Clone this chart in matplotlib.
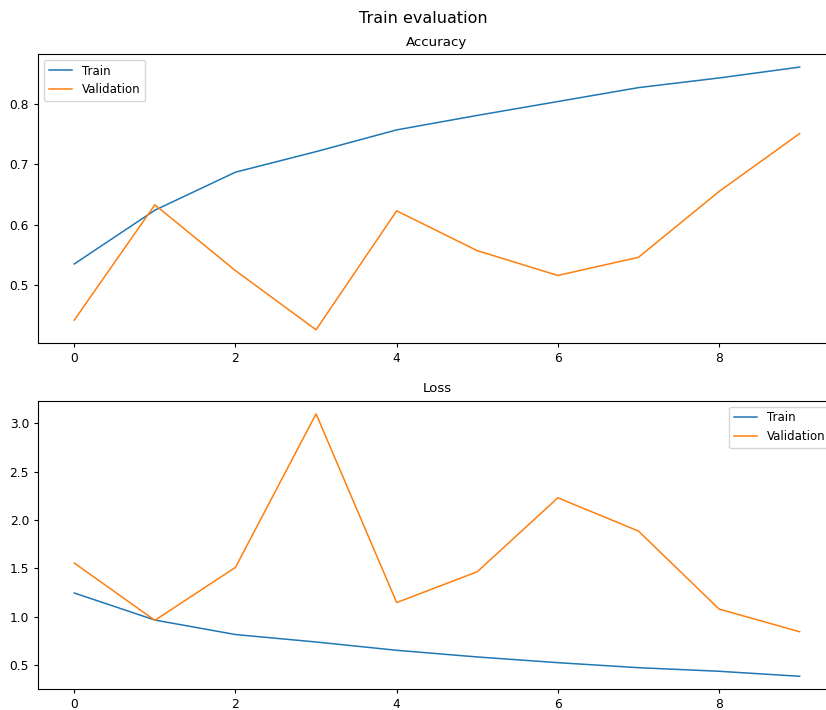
import matplotlib
matplotlib.use("Agg")
import matplotlib.pyplot as plt

# Epoch history
epochs = list(range(10))
train_acc = [0.535, 0.624, 0.687, 0.721, 0.757, 0.781, 0.804, 0.827, 0.843, 0.861]
val_acc = [0.442, 0.633, 0.524, 0.426, 0.623, 0.557, 0.516, 0.546, 0.655, 0.751]
train_loss = [1.245, 0.965, 0.815, 0.738, 0.652, 0.583, 0.524, 0.472, 0.435, 0.383]
val_loss = [1.555, 0.962, 1.510, 3.099, 1.146, 1.465, 2.230, 1.886, 1.079, 0.844]

plt.rcParams["font.size"] = 8.8
plt.rcParams["legend.fontsize"] = 8.5
plt.rcParams["lines.linewidth"] = 1.1
plt.rcParams["xtick.major.size"] = 2.9
plt.rcParams["ytick.major.size"] = 2.9

fig = plt.figure(figsize=(8.26, 7.10), dpi=100)
ax1 = fig.add_axes([0.046, 0.517, 0.966, 0.407])
ax2 = fig.add_axes([0.046, 0.029, 0.966, 0.4066])

fig.text(0.513, 0.9746, "Train evaluation", ha="center", va="center", fontsize=11.5)

# Accuracy
ax1.plot(epochs, train_acc, label="Train")
ax1.plot(epochs, val_acc, label="Validation")
ax1.set_title("Accuracy", fontsize=9.6)
ax1.legend(loc="upper left")

# Loss
ax2.plot(epochs, train_loss, label="Train")
ax2.plot(epochs, val_loss, label="Validation")
ax2.set_title("Loss", fontsize=9.6)
ax2.legend(loc="upper right")

fig.savefig("out.png", dpi=100)
